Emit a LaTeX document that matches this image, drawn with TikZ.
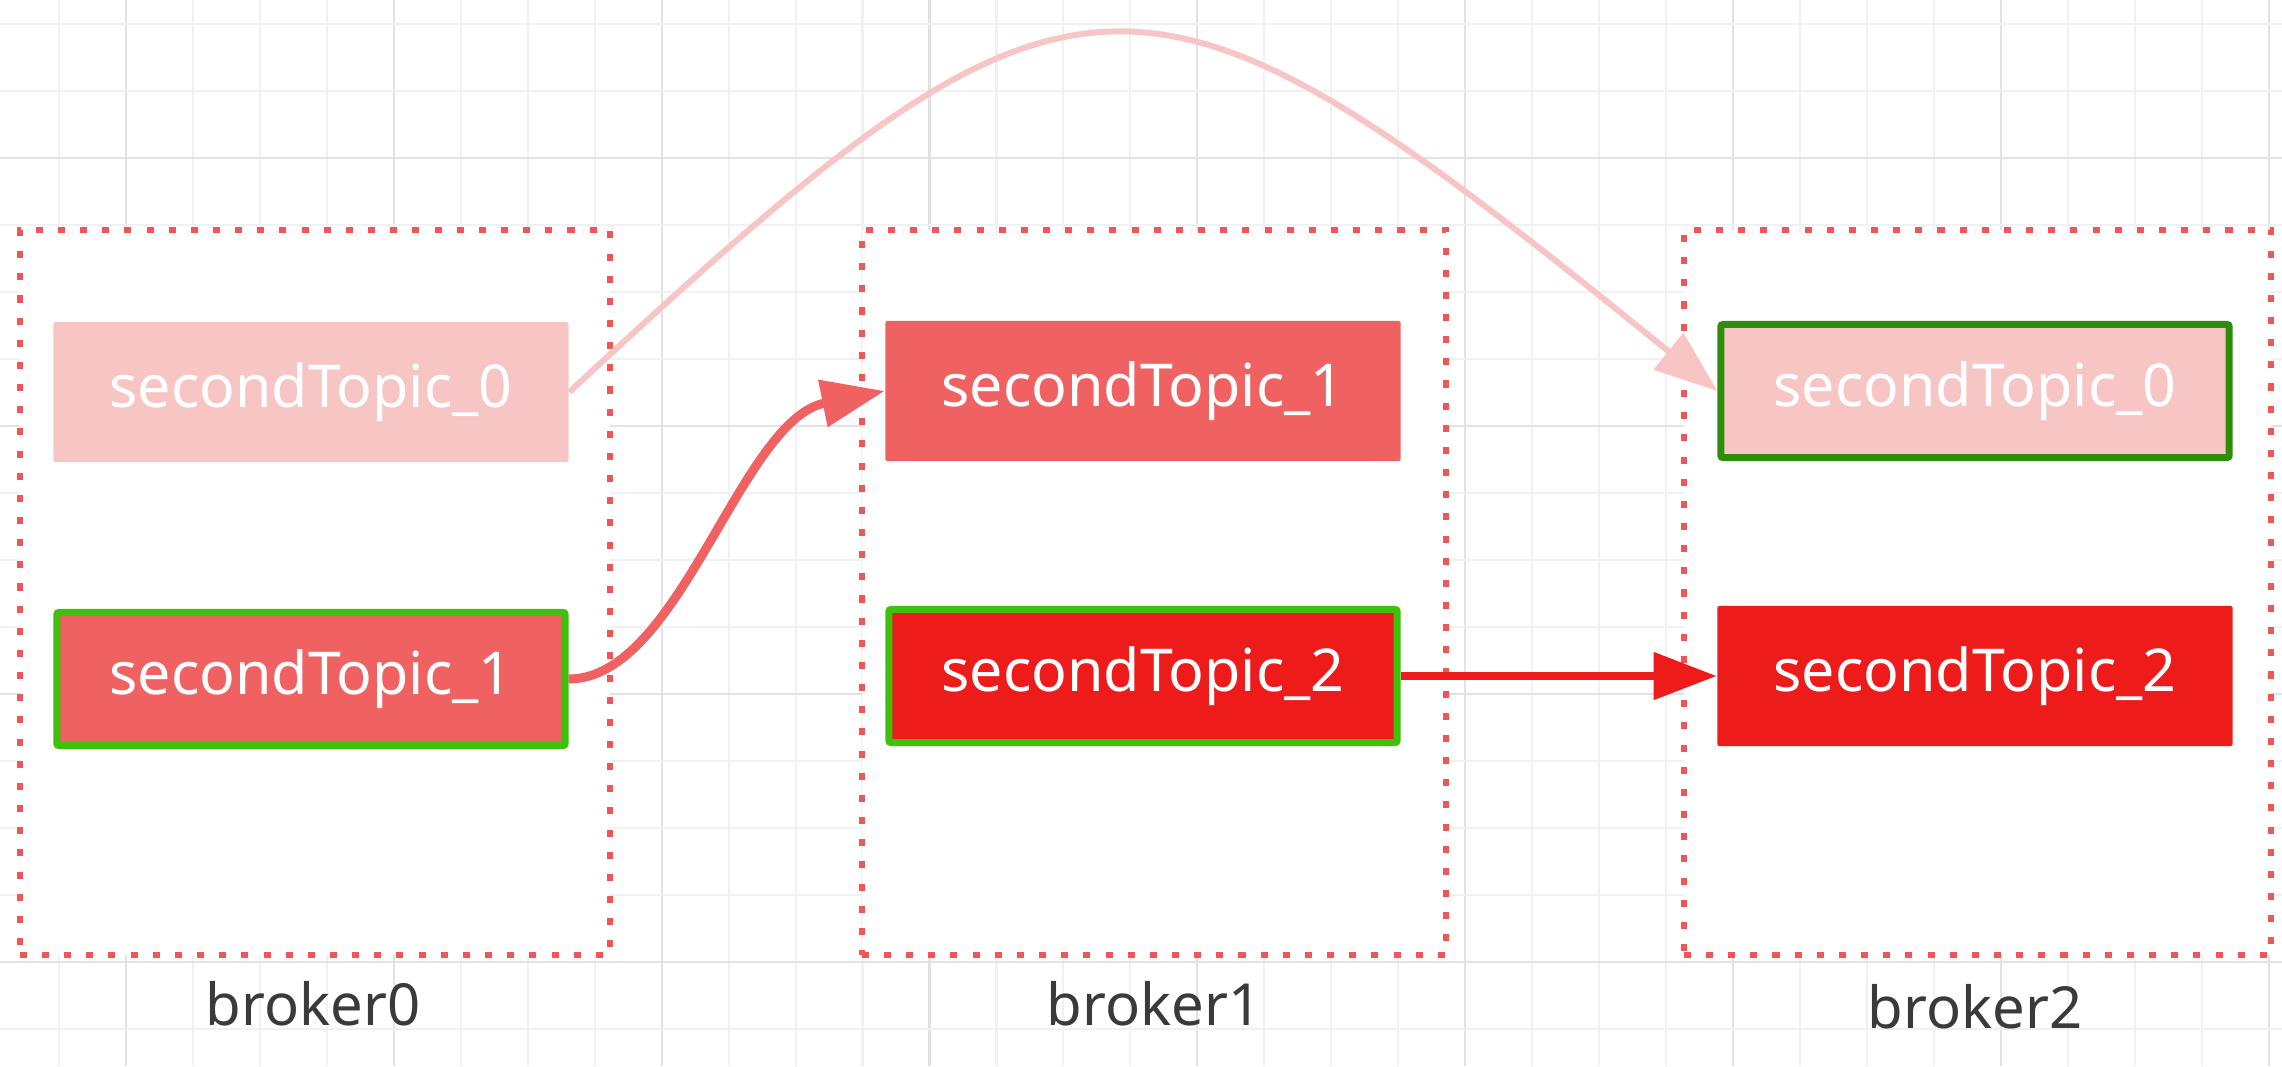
\documentclass[tikz,border=0pt]{standalone}
\usepackage{fontspec}
\setmainfont{Noto Sans}
\usetikzlibrary{arrows.meta}
\definecolor{gridminor}{HTML}{F1F1F1}
\definecolor{gridmajor}{HTML}{E2E2E2}
\definecolor{dotred}{HTML}{F05656}
\definecolor{pinkfill}{HTML}{F8C5C5}
\definecolor{midred}{HTML}{F06262}
\definecolor{brightred}{HTML}{EE1B1B}
\definecolor{brightgreen}{HTML}{3FC10B}
\definecolor{darkgreen}{HTML}{2E8E0A}
\definecolor{labelgray}{HTML}{3A3A3A}
\begin{document}
\begin{tikzpicture}[x=0.01cm,y=-0.01cm,
  container/.style={draw=dotred, fill=white, line width=1.8pt, dash pattern=on 2pt off 4.3pt, minimum height=7.25cm, inner sep=0pt},
  part/.style={minimum width=5.15cm, minimum height=1.4cm, inner sep=0pt, rounded corners=0.6pt, text=white, font=\fontsize{16.8}{20}\selectfont},
  leader/.style={part, minimum width=5.08cm, minimum height=1.33cm, line width=0.07cm},
  brokerlabel/.style={text=labelgray, inner sep=0pt, font=\fontsize{16.5}{20}\selectfont},
  tipstyle/.style={-{Triangle[length=0.63cm,width=0.46cm]}},
  pinkflow/.style={draw=pinkfill, line width=0.06cm, tipstyle},
  midflow/.style={draw=midred, line width=0.09cm, tipstyle},
  redflow/.style={draw=brightred, line width=0.08cm, tipstyle}
]
\useasboundingbox[fill=white] (0,0) rectangle (2282,1066);
% grid
\foreach \i in {0,...,33} {
  \pgfmathtruncatemacro\gridm{mod(\i,4)}
  \ifnum\gridm=1 \def\gridcol{gridmajor}\else\def\gridcol{gridminor}\fi
  \draw[\gridcol, line width=0.6pt] ({59+66.96*\i},0) -- ({59+66.96*\i},1066);
}
\foreach \j in {0,...,15} {
  \pgfmathtruncatemacro\gridm{mod(\j,4)}
  \ifnum\gridm=2 \def\gridcol{gridmajor}\else\def\gridcol{gridminor}\fi
  \draw[\gridcol, line width=0.6pt] (0,{24+67*\j}) -- (2282,{24+67*\j});
}
% containers
\node[container, minimum width=5.9cm] (box0) at (315,592.5) {};
\node[container, minimum width=5.84cm] (box1) at (1154,592.5) {};
\node[container, minimum width=5.87cm] (box2) at (1977.5,592.5) {};
% broker labels
\node[brokerlabel] (lab0) at (313,1004) {broker0};
\node[brokerlabel] (lab1) at (1154,1004) {broker1};
\node[brokerlabel] (lab2) at (1975,1007) {broker2};
% partitions
\node[part, fill=pinkfill] (b0n0) at (311,392) {secondTopic\_0};
\node[leader, fill=midred, draw=brightgreen] (b0n1) at (311,679) {secondTopic\_1};
\node[part, fill=midred] (b1n1) at (1143,391) {secondTopic\_1};
\node[leader, fill=brightred, draw=brightgreen] (b1n2) at (1143,676) {secondTopic\_2};
\node[leader, fill=pinkfill, draw=darkgreen] (b2n0) at (1975,391) {secondTopic\_0};
\node[part, fill=brightred] (b2n2) at (1975,676) {secondTopic\_2};
% connectors
\draw[pinkflow] (b0n0.east) .. controls (1080,-82) and (1135,-82) .. (b2n0.west);
\draw[midflow] (b0n1.east) .. controls (680,679) and (740,420) .. (b1n1.west);
\draw[redflow] (b1n2.east) -- (b2n2.west);
\end{tikzpicture}
\end{document}
